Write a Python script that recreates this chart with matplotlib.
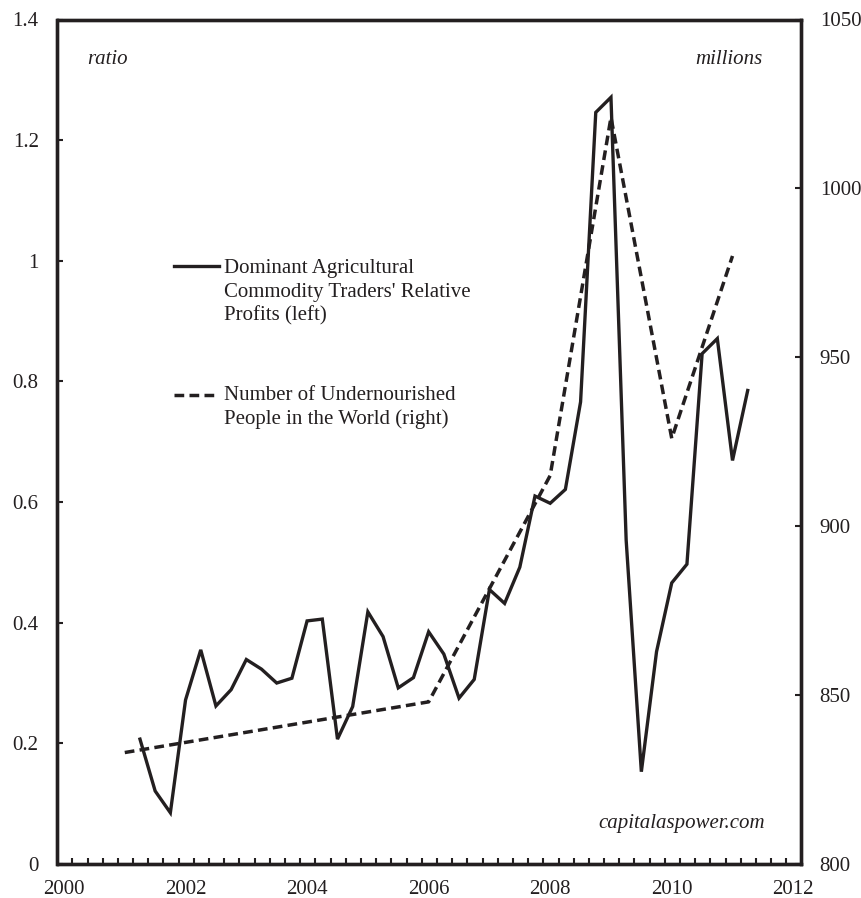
import matplotlib
matplotlib.use("Agg")
import matplotlib.pyplot as plt
import numpy as np

plt.rcParams['font.family'] = ['Liberation Serif', 'DejaVu Serif']
plt.rcParams['lines.scale_dashes'] = False

# Quarterly relative profits (left axis)
profit_dates = [2001.25, 2001.50, 2001.75, 2002.00, 2002.25, 2002.50, 2002.75,
                2003.00, 2003.25, 2003.50, 2003.75, 2004.00, 2004.25, 2004.50,
                2004.75, 2005.00, 2005.25, 2005.50, 2005.75, 2006.00, 2006.25,
                2006.50, 2006.75, 2007.00, 2007.25, 2007.50, 2007.75, 2008.00,
                2008.25, 2008.50, 2008.75, 2009.00, 2009.25, 2009.50, 2009.75,
                2010.00, 2010.25, 2010.50, 2010.75, 2011.00, 2011.25]
profit_values = [0.207, 0.121, 0.085, 0.272, 0.355, 0.262, 0.289,
                 0.339, 0.323, 0.300, 0.308, 0.403, 0.406, 0.207,
                 0.261, 0.418, 0.377, 0.292, 0.309, 0.385, 0.348,
                 0.275, 0.306, 0.455, 0.432, 0.492, 0.610, 0.598,
                 0.621, 0.766, 1.246, 1.271, 0.537, 0.153, 0.352,
                 0.466, 0.497, 0.846, 0.871, 0.669, 0.785]

# Undernourished people, millions (right axis)
hunger_years = [2001, 2006, 2008, 2009, 2010, 2011]
hunger_values = [833, 848, 915, 1021, 926, 980]

x_tick_labels = [2000, 2002, 2004, 2006, 2008, 2010, 2012]
left_ticks = [0, 0.2, 0.4, 0.6, 0.8, 1.0, 1.2, 1.4]
left_tick_labels = ['0', '0.2', '0.4', '0.6', '0.8', '1', '1.2', '1.4']
right_ticks = [800, 850, 900, 950, 1000, 1050]

ink = '#231f20'
FS = 15

fig = plt.figure(figsize=(8.62, 8.98), dpi=100)
ax = fig.add_axes([57.5/862, 1-864/898, 743.5/862, 844.5/898])
ax2 = ax.twinx()

ax.plot(profit_dates, profit_values, color=ink, lw=2.4, solid_joinstyle='miter')
ax2.plot(hunger_years, hunger_values, color=ink, lw=2.5, dashes=(7.0, 3.8))

ax.set_xlim(1999.893, 2012.127)
ax.set_ylim(0, 1.4)
ax2.set_ylim(800, 1050)

ax.set_xticks(x_tick_labels)
ax.set_xticklabels([str(v) for v in x_tick_labels])
ax.set_xticks([2000.137 + 0.25*k for k in range(48)], minor=True)
ax.tick_params(axis='x', which='major', length=0, pad=11.5, labelsize=FS, colors=ink)
ax.tick_params(axis='x', which='minor', direction='in', length=4.5, width=1.5, color=ink)

ax.set_yticks(left_ticks)
ax.set_yticklabels(left_tick_labels)
ax.tick_params(axis='y', direction='in', length=4.5, width=1.5, pad=13.5, labelsize=FS, colors=ink)
ax2.set_yticks(right_ticks)
ax2.set_yticklabels([str(v) for v in right_ticks])
ax2.tick_params(axis='y', direction='in', length=4.5, width=1.5, pad=13.5, labelsize=FS, colors=ink)

for a in (ax, ax2):
    for s in a.spines.values():
        s.set_linewidth(2.4)
        s.set_color(ink)

ax.text(0.0401, 0.947, 'ratio', transform=ax.transAxes, style='italic',
        fontsize=FS, color=ink, va='baseline', ha='left')
ax.text(0.948, 0.947, 'millions', transform=ax.transAxes, style='italic',
        fontsize=FS, color=ink, va='baseline', ha='right')
ax.text(0.9516, 0.0423, 'capitalaspower.com', transform=ax.transAxes, style='italic',
        fontsize=FS, color=ink, va='baseline', ha='right')

# legend
def fx(px):
    return (px - 57.5) / 743.5

def fy(py):
    return (864 - py) / 844.5

ax.plot([fx(174), fx(219.3)], [fy(266), fy(266)], transform=ax.transAxes,
        color=ink, lw=2.4, clip_on=False)
ax.plot([fx(174), fx(219.3)], [fy(395), fy(395)], transform=ax.transAxes,
        color=ink, lw=2.5, dashes=(7.0, 3.8), clip_on=False)
leg1 = ["Dominant Agricultural", "Commodity Traders' Relative", "Profits (left)"]
for i, t in enumerate(leg1):
    ax.text(fx(224), fy(273.3 + 23.6*i), t, transform=ax.transAxes, fontsize=FS,
            color=ink, va='baseline', ha='left')
leg2 = ["Number of Undernourished", "People in the World (right)"]
for i, t in enumerate(leg2):
    ax.text(fx(224), fy(400.5 + 23.6*i), t, transform=ax.transAxes, fontsize=FS,
            color=ink, va='baseline', ha='left')

fig.savefig('out.png', dpi=100)
